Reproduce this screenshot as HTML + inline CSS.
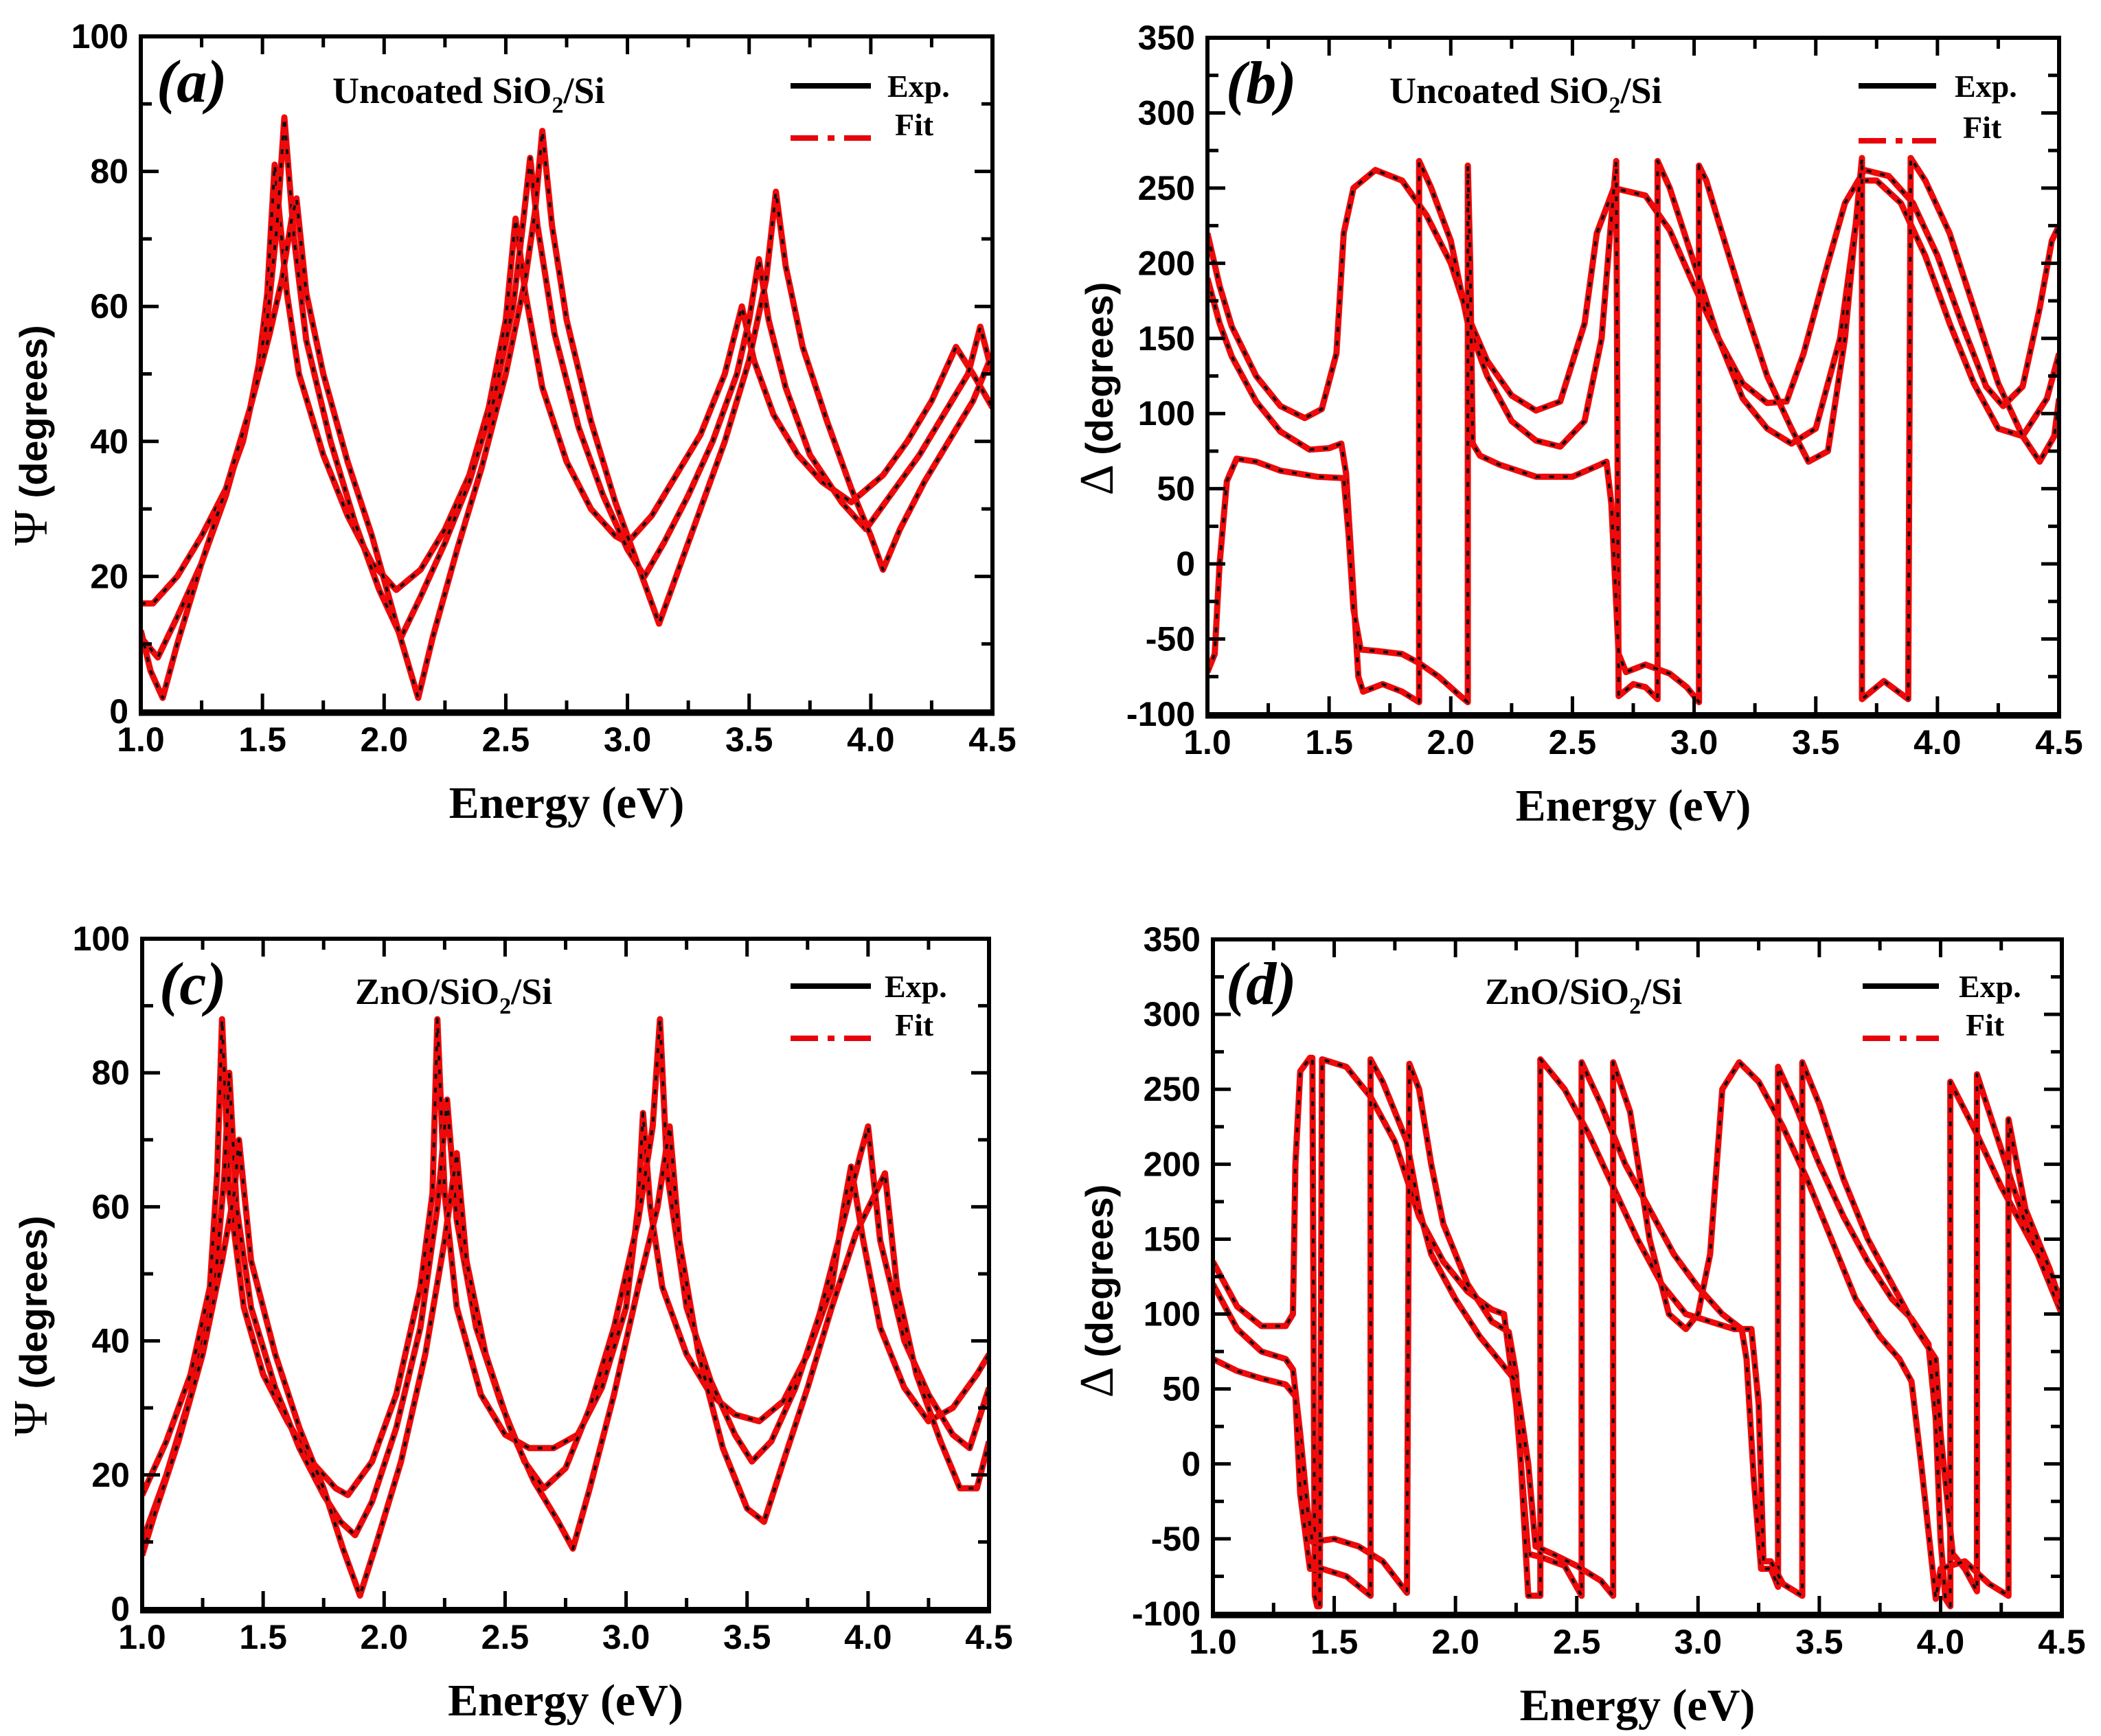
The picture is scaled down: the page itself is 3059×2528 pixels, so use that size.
<!DOCTYPE html>
<html><head><meta charset="utf-8"><style>
html,body{margin:0;padding:0;background:#fff;}
svg{display:block;}
.tick{font-family:"Liberation Sans Narrow","Liberation Sans",sans-serif;font-weight:bold;font-size:50px;fill:#000;}
.xl{font-family:"Liberation Serif",serif;font-weight:bold;font-size:66px;fill:#000;}
.yl{font-family:"Liberation Sans",sans-serif;font-weight:bold;font-size:56px;fill:#000;}
.ttl{font-family:"Liberation Serif",serif;font-weight:bold;font-size:54px;fill:#000;}
.pl{font-family:"Liberation Serif",serif;font-weight:bold;font-style:italic;font-size:88px;fill:#000;}
.lg{font-family:"Liberation Serif",serif;font-weight:bold;font-size:46px;fill:#000;}
</style></head><body>
<svg id="fig" width="3059" height="2528" viewBox="0 0 3059 2528" xmlns="http://www.w3.org/2000/svg"></svg>
<script>
// ---- Data: panel (a) Psi, uncoated
const a1 = [[1.0,16],[1.05,16],[1.15,20],[1.25,26],[1.35,33],[1.42,40],[1.48,50],[1.52,62],[1.55,81],[1.6,62],[1.65,50],[1.75,38],[1.85,29],[1.95,22],[2.05,18],[2.15,21],[2.25,27],[2.35,35],[2.43,45],[2.5,58],[2.54,73],[2.58,62],[2.65,48],[2.75,37],[2.85,30],[2.95,26],[3.0,25],[3.1,29],[3.2,35],[3.3,41],[3.4,50],[3.47,60],[3.52,52],[3.6,44],[3.7,38],[3.8,34],[3.92,31],[4.05,35],[4.15,40],[4.25,46],[4.35,54],[4.42,50],[4.5,45]];
const a2 = [[1.0,11],[1.07,8],[1.15,14],[1.25,22],[1.35,32],[1.45,45],[1.52,58],[1.56,72],[1.59,88],[1.63,70],[1.68,55],[1.78,40],[1.88,28],[1.98,18],[2.07,11],[2.15,17],[2.25,25],[2.35,34],[2.45,46],[2.53,60],[2.57,72],[2.6,82],[2.63,72],[2.7,56],[2.8,42],[2.9,32],[3.0,24],[3.07,20],[3.15,25],[3.25,32],[3.35,40],[3.45,50],[3.5,58],[3.54,67],[3.58,58],[3.65,48],[3.75,38],[3.88,31],[3.98,27],[4.1,33],[4.2,38],[4.3,44],[4.4,50],[4.45,57],[4.5,50]];
const a3 = [[1.0,12],[1.04,6],[1.09,2],[1.15,10],[1.25,22],[1.35,33],[1.45,45],[1.53,56],[1.58,64],[1.62,73],[1.64,76],[1.68,62],[1.75,50],[1.85,37],[1.95,26],[2.05,13],[2.14,2],[2.2,11],[2.3,24],[2.4,36],[2.5,50],[2.58,64],[2.62,74],[2.65,86],[2.69,72],[2.75,58],[2.85,43],[2.95,31],[3.05,21],[3.13,13],[3.2,20],[3.3,30],[3.4,40],[3.5,52],[3.57,64],[3.61,77],[3.65,66],[3.72,54],[3.82,43],[3.92,33],[4.0,26],[4.05,21],[4.12,27],[4.22,34],[4.32,40],[4.42,46],[4.5,53]];
// ---- panel (b) Delta, uncoated
const b1 = [[1.0,220],[1.05,185],[1.1,158],[1.2,125],[1.3,105],[1.4,97],[1.47,103],[1.53,140],[1.56,220],[1.6,250],[1.69,262],[1.8,255],[1.9,232],[2.0,200],[2.07,165],[2.15,135],[2.25,112],[2.35,102],[2.45,108],[2.55,160],[2.6,220],[2.67,250],[2.8,245],[2.9,222],[3.0,185],[3.1,150],[3.2,120],[3.3,107],[3.38,108],[3.45,140],[3.55,200],[3.62,240],[3.7,262],[3.8,258],[3.9,240],[4.0,205],[4.1,160],[4.2,118],[4.27,105],[4.35,118],[4.42,170],[4.47,215],[4.5,225]];
const b2 = [[1.0,190],[1.05,160],[1.1,138],[1.2,108],[1.3,88],[1.42,76],[1.5,77],[1.55,80],[1.57,60],[1.6,-20],[1.62,-75],[1.64,-85],[1.72,-80],[1.8,-85],[1.87,-92],[1.87,268],[1.92,250],[2.0,215],[2.07,160],[2.15,125],[2.25,95],[2.35,82],[2.45,78],[2.55,95],[2.62,150],[2.66,230],[2.68,268],[2.69,-88],[2.75,-80],[2.8,-82],[2.85,-90],[2.85,268],[2.9,250],[3.0,200],[3.1,150],[3.2,110],[3.3,90],[3.4,80],[3.5,90],[3.6,150],[3.65,210],[3.69,255],[3.75,255],[3.85,240],[3.95,205],[4.05,160],[4.15,120],[4.25,90],[4.35,85],[4.45,110],[4.5,140]];
const b3 = [[1.0,-72],[1.03,-60],[1.05,0],[1.08,55],[1.12,70],[1.2,68],[1.3,62],[1.45,58],[1.56,57],[1.58,20],[1.6,-30],[1.63,-57],[1.7,-58],[1.8,-60],[1.87,-66],[1.95,-75],[2.04,-88],[2.07,-92],[2.07,265],[2.08,200],[2.09,80],[2.12,72],[2.2,66],[2.35,58],[2.5,58],[2.6,65],[2.64,68],[2.66,40],[2.69,-60],[2.72,-72],[2.8,-67],[2.9,-73],[2.97,-82],[3.02,-92],[3.02,265],[3.05,255],[3.1,228],[3.2,175],[3.3,125],[3.4,90],[3.47,68],[3.55,75],[3.62,150],[3.69,270],[3.69,-90],[3.78,-78],[3.88,-90],[3.89,270],[3.95,255],[4.05,220],[4.15,170],[4.25,120],[4.35,85],[4.42,68],[4.48,85],[4.5,110]];
// ---- panel (c) Psi, ZnO
const c1 = [[1.0,17],[1.1,25],[1.2,35],[1.28,48],[1.31,65],[1.33,88],[1.36,62],[1.42,45],[1.5,35],[1.6,28],[1.7,22],[1.8,18],[1.85,17],[1.95,22],[2.05,32],[2.15,48],[2.2,62],[2.22,88],[2.25,62],[2.3,45],[2.4,32],[2.5,26],[2.6,24],[2.7,24],[2.8,26],[2.9,33],[3.0,45],[3.05,60],[3.07,74],[3.1,60],[3.15,48],[3.25,38],[3.35,32],[3.45,29],[3.55,28],[3.65,31],[3.75,38],[3.85,48],[3.9,60],[3.93,66],[3.98,55],[4.05,42],[4.15,33],[4.25,28],[4.35,30],[4.45,35],[4.5,38]];
const c2 = [[1.0,10],[1.1,20],[1.2,32],[1.3,48],[1.34,65],[1.36,80],[1.39,60],[1.45,45],[1.55,33],[1.65,24],[1.75,17],[1.82,13],[1.88,11],[1.95,16],[2.05,27],[2.15,42],[2.22,60],[2.26,76],[2.3,58],[2.38,42],[2.48,31],[2.58,22],[2.66,18],[2.75,21],[2.85,30],[2.95,42],[3.05,58],[3.11,72],[3.14,88],[3.17,65],[3.25,45],[3.35,34],[3.45,26],[3.52,22],[3.6,25],[3.7,33],[3.8,44],[3.9,58],[3.97,68],[4.0,72],[4.05,55],[4.15,40],[4.25,32],[4.35,26],[4.42,24],[4.5,33]];
const c3 = [[1.0,8],[1.05,14],[1.15,25],[1.25,38],[1.33,52],[1.38,62],[1.4,70],[1.45,52],[1.55,38],[1.65,27],[1.75,18],[1.83,9],[1.9,2],[1.97,10],[2.07,22],[2.17,38],[2.25,55],[2.3,68],[2.34,52],[2.42,38],[2.52,27],[2.62,19],[2.72,13],[2.78,9],[2.85,18],[2.95,32],[3.05,48],[3.13,60],[3.18,72],[3.22,55],[3.3,38],[3.4,24],[3.5,15],[3.57,13],[3.65,22],[3.75,33],[3.85,45],[3.95,56],[4.03,62],[4.07,65],[4.12,48],[4.2,35],[4.3,25],[4.38,18],[4.45,18],[4.5,25]];
// ---- panel (d) Delta, ZnO
const d1 = [[1.0,135],[1.1,105],[1.2,92],[1.3,92],[1.33,100],[1.34,200],[1.36,262],[1.4,271],[1.41,271],[1.42,-88],[1.43,-95],[1.44,-95],[1.45,270],[1.55,265],[1.65,245],[1.75,215],[1.85,165],[1.95,135],[2.05,115],[2.15,103],[2.2,100],[2.22,75],[2.25,40],[2.28,-20],[2.3,-60],[2.35,-62],[2.45,-68],[2.52,-88],[2.52,268],[2.6,240],[2.7,200],[2.8,170],[2.9,140],[3.0,118],[3.1,100],[3.18,90],[3.2,70],[3.23,-10],[3.26,-70],[3.3,-70],[3.33,-82],[3.33,265],[3.4,240],[3.5,200],[3.6,165],[3.7,135],[3.8,110],[3.88,97],[3.95,80],[3.98,30],[4.0,-50],[4.02,-90],[4.04,-95],[4.04,255],[4.15,220],[4.25,185],[4.35,155],[4.45,125],[4.5,110]];
const d2 = [[1.0,120],[1.1,90],[1.2,75],[1.3,70],[1.33,63],[1.36,20],[1.39,-30],[1.41,-52],[1.5,-50],[1.6,-55],[1.7,-65],[1.8,-86],[1.81,267],[1.85,250],[1.9,200],[1.95,160],[2.05,120],[2.15,95],[2.22,88],[2.25,60],[2.28,-30],[2.3,-88],[2.35,-88],[2.35,270],[2.45,250],[2.55,220],[2.65,185],[2.75,150],[2.85,120],[2.95,100],[3.05,95],[3.15,90],[3.22,90],[3.25,40],[3.27,-65],[3.3,-65],[3.35,-80],[3.43,-88],[3.43,268],[3.5,240],[3.6,190],[3.7,150],[3.8,120],[3.9,90],[3.98,70],[4.0,20],[4.05,-60],[4.1,-70],[4.15,-85],[4.15,260],[4.25,210],[4.35,160],[4.45,120],[4.5,100]];
const d3 = [[1.0,70],[1.1,62],[1.2,57],[1.3,53],[1.34,45],[1.36,-20],[1.4,-70],[1.45,-70],[1.55,-75],[1.65,-88],[1.65,270],[1.7,255],[1.8,215],[1.85,170],[1.9,140],[2.0,110],[2.1,85],[2.2,65],[2.25,55],[2.3,0],[2.33,-55],[2.4,-60],[2.5,-68],[2.6,-78],[2.65,-88],[2.65,268],[2.72,235],[2.8,150],[2.88,100],[2.95,90],[3.0,100],[3.05,140],[3.1,250],[3.17,268],[3.25,255],[3.35,225],[3.45,190],[3.55,150],[3.65,110],[3.75,85],[3.83,70],[3.88,55],[3.92,0],[3.96,-60],[3.98,-90],[4.0,-70],[4.1,-65],[4.2,-80],[4.28,-88],[4.28,230],[4.35,170],[4.45,130],[4.5,105]];
const xTicks = [1.0,1.5,2.0,2.5,3.0,3.5,4.0,4.5];
const psiTicks = [0,20,40,60,80,100];
const delTicks = [-100,-50,0,50,100,150,200,250,300,350];

const NS = "http://www.w3.org/2000/svg";
const fig = document.getElementById('fig');
function el(tag, attrs, parent){const e=document.createElementNS(NS,tag);for(const k in attrs)e.setAttribute(k,attrs[k]);(parent||fig).appendChild(e);return e;}

const panels = [
 {id:'a',L:205,R:1445,T:53,B:1036,ymin:0,ymax:100,ticks:psiTicks,minor:10,series:[a1,a2,a3],sym:'Ψ',title:'Uncoated SiO',tail:'/Si',ylx:68,yly:634,plx:228,ply:148,tx:484,ty:150,lx1:1151,lx2:1268,ly1:125,ly2:201,ltx:1292,lfx:1303},
 {id:'b',L:1758,R:2998,T:55,B:1040,ymin:-100,ymax:350,ticks:delTicks,minor:25,series:[b1,b2,b3],sym:'Δ',title:'Uncoated SiO',tail:'/Si',ylx:1620,yly:566,plx:1785,ply:150,tx:2023,ty:150,lx1:2706,lx2:2819,ly1:125,ly2:205,ltx:2846,lfx:2858},
 {id:'c',L:207,R:1440,T:1367,B:2343,ymin:0,ymax:100,ticks:psiTicks,minor:10,series:[c1,c2,c3],sym:'Ψ',title:'ZnO/SiO',tail:'/Si',ylx:68,yly:1931,plx:232,ply:1462,tx:517,ty:1462,lx1:1151,lx2:1268,ly1:1436,ly2:1512,ltx:1288,lfx:1303},
 {id:'d',L:1766,R:3002,T:1368,B:2350,ymin:-100,ymax:350,ticks:delTicks,minor:25,series:[d1,d2,d3],sym:'Δ',title:'ZnO/SiO',tail:'/Si',ylx:1620,yly:1880,plx:1785,ply:1462,tx:2162,ty:1462,lx1:2712,lx2:2823,ly1:1436,ly2:1512,ltx:2852,lfx:2862}
];

panels.forEach(p=>{
  const g = el('g',{});
  
  
  const xs = e => p.L + (e-1.0)/3.5*(p.R-p.L);
  const ys = v => p.B - (v-p.ymin)/(p.ymax-p.ymin)*(p.B-p.T);
  const clip = el('clipPath',{id:'clip'+p.id},g);
  el('rect',{x:p.L,y:p.T,width:p.R-p.L,height:p.B-p.T},clip);
  const sg = el('g',{'clip-path':'url(#clip'+p.id+')'},g);
  p.series.forEach((s,i)=>{
    const d = s.map((pt,j)=>(j?'L':'M')+xs(pt[0]).toFixed(1)+' '+ys(pt[1]).toFixed(1)).join(' ');
    const fit = el('path',{d:d,fill:'none',stroke:'#ee0a0a','stroke-width':9,'stroke-linejoin':'round'},sg);
    
    
    const exp = el('path',{d:d,fill:'none',stroke:'#111','stroke-width':4,'stroke-dasharray':'7 13','stroke-linejoin':'round'},sg);
    
    
  });
  for(let e=1.0;e<=4.501;e+=0.25){
    const major = Math.abs(e*2-Math.round(e*2))<1e-6;
    const len = major?26:16;
    el('line',{x1:xs(e),x2:xs(e),y1:p.B,y2:p.B-len,stroke:'#000','stroke-width':5},g);
    el('line',{x1:xs(e),x2:xs(e),y1:p.T,y2:p.T+len,stroke:'#000','stroke-width':5},g);
  }
  for(let v=p.ymin;v<=p.ymax+0.01;v+=p.minor){
    const major = p.ticks.indexOf(v)>=0;
    const len = major?26:16;
    el('line',{x1:p.L,x2:p.L+len,y1:ys(v),y2:ys(v),stroke:'#000','stroke-width':5},g);
    el('line',{x1:p.R,x2:p.R-len,y1:ys(v),y2:ys(v),stroke:'#000','stroke-width':5},g);
  }
  const frame = el('rect',{x:p.L,y:p.T,width:p.R-p.L,height:p.B-p.T,fill:'none',stroke:'#000','stroke-width':6},g);
  
  
  el('line',{x1:p.L-3,x2:p.R+3,y1:p.B+2,y2:p.B+2,stroke:'#000','stroke-width':9},g);
  xTicks.forEach(e=>{
    const t = el('text',{x:xs(e),y:p.B+58,'text-anchor':'middle',class:'tick'},g);
    t.textContent = e.toFixed(1);
    
    
  });
  p.ticks.forEach(v=>{
    const t = el('text',{x:p.L-18,y:ys(v)+17,'text-anchor':'end',class:'tick'},g);
    t.textContent = String(v);
    
    
  });
  const xl = el('text',{x:(p.L+p.R)/2,y:p.B+155,'text-anchor':'middle',class:'xl'},g);
  xl.textContent = 'Energy (eV)';
  
  
  const yl = el('text',{x:0,y:0,'text-anchor':'middle',class:'yl',transform:'translate('+p.ylx+','+p.yly+') rotate(-90)'},g);
  const ts = el('tspan',{style:'font-family:"Liberation Serif",serif;font-size:70px;font-weight:normal'},yl);
  ts.textContent = p.sym+'  ';
  const ts2 = el('tspan',{},yl);
  ts2.textContent = '(degrees)';
  
  
  const pl = el('text',{x:p.plx,y:p.ply,class:'pl'},g);
  pl.textContent = '('+p.id+')';
  
  
  const tt = el('text',{x:p.tx,y:p.ty,class:'ttl'},g);
  
  
  const t1 = el('tspan',{},tt); t1.textContent = p.title;
  const t2 = el('tspan',{dy:14,style:'font-size:34px'},tt); t2.textContent='2';
  const t3 = el('tspan',{dy:-14},tt); t3.textContent=p.tail;
  const lg = el('g',{},g);
  
  
  el('line',{x1:p.lx1,x2:p.lx2,y1:p.ly1,y2:p.ly1,stroke:'#000','stroke-width':8},lg);
  el('line',{x1:p.lx1,x2:p.lx2,y1:p.ly2,y2:p.ly2,stroke:'#e8000b','stroke-width':8,'stroke-dasharray':'40 14 10 14'},lg);
  const le = el('text',{x:p.ltx,y:p.ly1+16,class:'lg'},lg); le.textContent='Exp.';
  
  
  const lf = el('text',{x:p.lfx,y:p.ly2-4,class:'lg'},lg); lf.textContent='Fit';
  
  
});
</script>
</body></html>
